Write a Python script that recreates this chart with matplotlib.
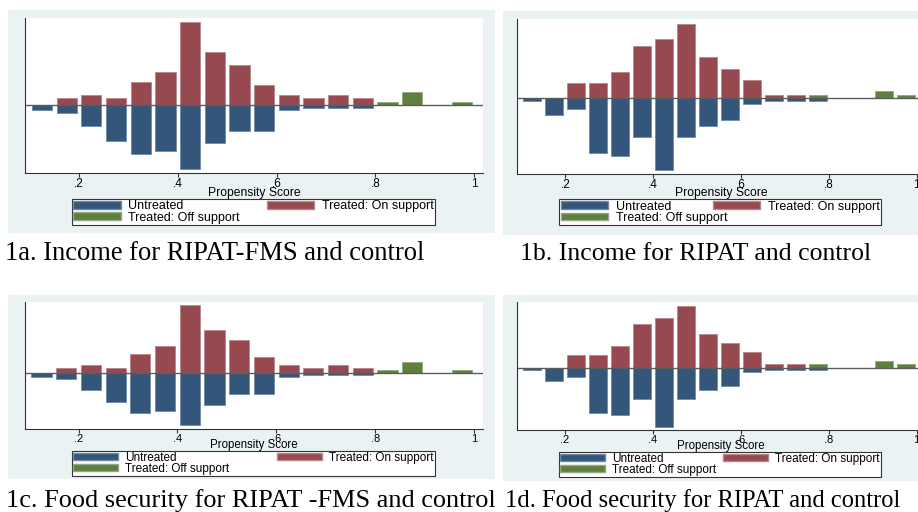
import numpy as np
import matplotlib.pyplot as plt
from matplotlib.patches import Rectangle, Patch

plt.rcParams["font.family"] = "Liberation Sans"

W, H = 918, 512

# bin midpoints of the propensity score histograms
bins = [0.125, 0.175, 0.225, 0.275, 0.325, 0.375, 0.425, 0.475, 0.525,
        0.575, 0.625, 0.675, 0.725, 0.775, 0.825, 0.875, 0.925, 0.975]

# counts per bin: RIPAT-FMS households vs control
fms_untreated = [2, 3, 8, 14, 19, 18, 25, 15, 10, 10, 2, 1, 1, 1, 0, 0, 0, 0]
fms_on = [0, 2, 3, 2, 7, 10, 25, 16, 12, 6, 3, 2, 3, 2, 0, 0, 0, 0]
fms_off = [0, 0, 0, 0, 0, 0, 0, 0, 0, 0, 0, 0, 0, 0, 1, 4, 0, 1]

# counts per bin: RIPAT households vs control
ripat_untreated = [1, 6, 4, 20, 21, 14, 26, 14, 10, 8, 2, 1, 1, 1, 0, 0, 0, 0]
ripat_on = [0, 0, 4, 4, 7, 14, 16, 20, 11, 8, 5, 1, 1, 0, 0, 0, 0, 0]
ripat_off = [0, 0, 0, 0, 0, 0, 0, 0, 0, 0, 0, 0, 0, 1, 0, 0, 2, 1]

captions = ["1a. Income for RIPAT-FMS and control",
            "1b. Income for RIPAT and control",
            "1c. Food security for RIPAT -FMS and control",
            "1d. Food security for RIPAT and control"]
xticks = [0.2, 0.4, 0.6, 0.8, 1.0]
xticklabels = [".2", ".4", ".6", ".8", "1"]
legend_labels = ["Untreated", "Treated: Off support", "Treated: On support"]

blue, red, green = "#33567a", "#964a50", "#5f7f40"
bg = "#eaf2f3"

fms = (fms_untreated, fms_on, fms_off)
ripat = (ripat_untreated, ripat_on, ripat_off)

# pixel boxes (x0, y0, x1, y1) measured from the top left corner
top = dict(tick=8.5, lab=8.7, pad=-2.5, legfs=9, lsp=-0.05)
bottom = dict(tick=8, lab=8.3, pad=-3.5, legfs=8.5, lsp=-0.1)
panels = [
    dict(data=fms, bg=(8, 10, 495, 233), plot=(25, 17.7, 483, 173.3),
         leg=(72, 199, 435, 223), cap=(5, 260), capsize=19.1, ylim=(-0.207, 0.265), **top),
    dict(data=ripat, bg=(502.7, 11, 940, 235), plot=(517.3, 19, 924.6, 173.7),
         leg=(559.3, 199.3, 881, 224.3), cap=(520, 260), capsize=18.5, ylim=(-0.2134, 0.2247), **top),
    dict(data=fms, bg=(8, 295, 495, 479), plot=(24.5, 301.7, 483, 429),
         leg=(72, 450.7, 435, 471), cap=(6, 507), capsize=18.9, ylim=(-0.207, 0.265), **bottom),
    dict(data=ripat, bg=(502.7, 295, 940, 481), plot=(517, 301.7, 924.6, 430),
         leg=(559, 451.7, 881, 472.7), cap=(505, 507), capsize=17.75, ylim=(-0.2134, 0.2247), **bottom),
]


def px(box):
    x0, y0, x1, y1 = box
    return [x0 / W, 1 - y1 / H, (x1 - x0) / W, (y1 - y0) / H]


fig = plt.figure(figsize=(W / 100, H / 100), dpi=100)

for p, cap in zip(panels, captions):
    unt, on, off = [np.array(a, dtype=float) for a in p["data"]]
    x = np.array(bins)
    n_treat = on.sum() + off.sum()
    n_ctrl = unt.sum()

    fig.add_artist(Rectangle(px(p["bg"])[:2], *px(p["bg"])[2:],
                             transform=fig.transFigure, fc=bg, ec="none", zorder=0))
    ax = fig.add_axes(px(p["plot"]))

    m = unt > 0
    ax.bar(x[m], -unt[m] / n_ctrl, width=0.041, color=blue, edgecolor="#6f8aa6", lw=0.6)
    m = on > 0
    ax.bar(x[m], on[m] / n_treat, width=0.041, color=red, edgecolor="#b8868a", lw=0.6)
    m = off > 0
    ax.bar(x[m], off[m] / n_treat, width=0.041, color=green, edgecolor="#93a97e", lw=0.6)
    ax.axhline(0, color="#5c5c5c", lw=1)

    ax.set_xlim(0.0906, 1.0182)
    ax.set_ylim(*p["ylim"])
    ax.set_yticks([])
    ax.set_xticks(xticks)
    ax.set_xticklabels(xticklabels)
    ax.tick_params(axis="x", length=3, width=0.8, pad=0.5, labelsize=p["tick"], color="#333333")
    ax.set_xlabel("Propensity Score", fontsize=p["lab"], labelpad=p["pad"])
    for s in ["top", "right"]:
        ax.spines[s].set_visible(False)
    for s in ["left", "bottom"]:
        ax.spines[s].set_color("#333333")
        ax.spines[s].set_linewidth(0.8)

    handles = [Patch(fc=blue, ec="#6f8aa6"), Patch(fc=green, ec="#93a97e"),
               Patch(fc=red, ec="#b8868a")]
    leg = ax.legend(handles, legend_labels, ncol=2, mode="expand",
                    bbox_to_anchor=px(p["leg"]), bbox_transform=fig.transFigure,
                    loc="upper left", borderaxespad=0, fontsize=p["legfs"],
                    handlelength=3.8, handleheight=0.6, handletextpad=0.6,
                    labelspacing=p["lsp"], borderpad=0.1, fancybox=False,
                    edgecolor="#333333", framealpha=1)
    leg.get_frame().set_linewidth(0.8)

    fig.text(p["cap"][0] / W, 1 - p["cap"][1] / H, cap, family="Liberation Serif",
             fontsize=p["capsize"], va="baseline")

plt.savefig("out.png", dpi=100)
